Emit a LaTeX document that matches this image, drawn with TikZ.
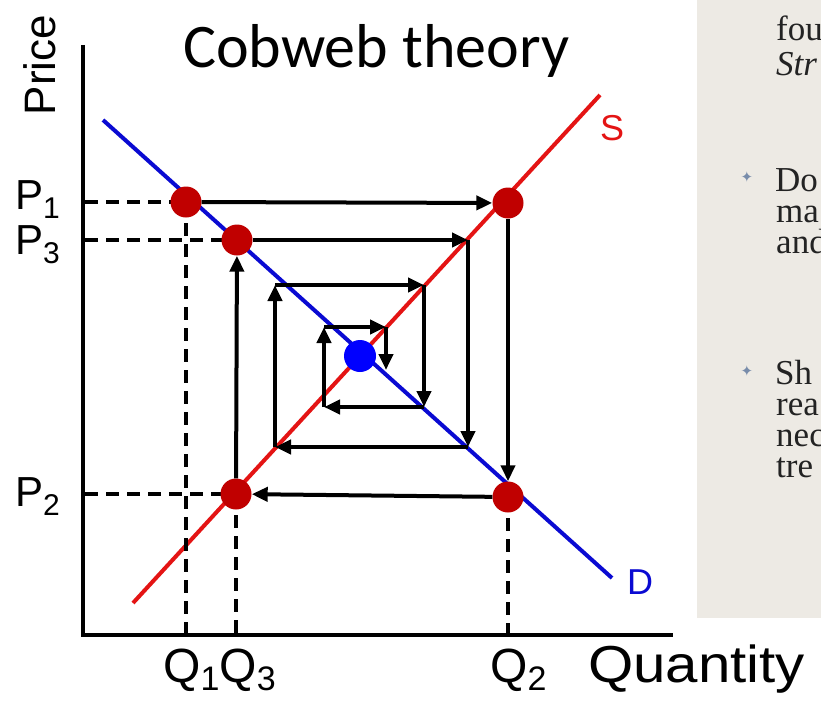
\documentclass[tikz,border=0pt]{standalone}
\usepackage{fontspec}
\setmainfont{Liberation Sans}
\newfontfamily\titlefont{Carlito}
\newfontfamily\bookfont{Liberation Serif}
\newfontfamily\symfont{DejaVu Sans}
\usetikzlibrary{arrows.meta}
\definecolor{sred}{RGB}{228,20,20}
\definecolor{dblue}{RGB}{10,10,210}
\definecolor{dotred}{RGB}{192,0,0}
\definecolor{dotblue}{RGB}{0,0,255}
\definecolor{paper}{RGB}{237,234,228}
\definecolor{bulletc}{RGB}{120,140,170}
\definecolor{ink}{RGB}{35,35,35}
\begin{document}
\begin{tikzpicture}[x=1pt,y=-1pt,
  axisline/.style={line width=4pt},
  supply/.style={line width=4pt, sred},
  demand/.style={line width=4pt, dblue},
  guide/.style={line width=3.5pt, dash pattern=on 13pt off 8pt},
  web/.style={line width=4pt, -{Triangle[length=16pt,width=14pt]}},
  rdot/.style={circle, fill=dotred, minimum size=31pt, inner sep=0pt},
  bdot/.style={circle, fill=dotblue, minimum size=32pt, inner sep=0pt},
  plbl/.style={font=\fontsize{42}{44}\selectfont, inner sep=0pt, anchor=base west},
  qlbl/.style={font=\fontsize{48}{50}\selectfont, inner sep=0pt, anchor=base west},
  pagetxt/.style={font=\bookfont\fontsize{35}{38}\selectfont, text=ink, inner sep=0pt, anchor=base west},
  bulletmark/.style={font=\symfont\fontsize{15}{15}\selectfont, text=bulletc, inner sep=0pt},
]
\useasboundingbox (0,0) rectangle (821,701);
\fill[white] (0,0) rectangle (821,701);
% book page
\begin{scope}
\clip (697,0) rectangle (821,618);
\fill[paper] (697,0) rectangle (821,618);
\node[pagetxt] (t1) at (776,41) {fou};
\node[pagetxt, font=\bookfont\itshape\fontsize{35}{38}\selectfont] (t2) at (776,75) {Str};
\node[bulletmark] (b1) at (747,177) {✦};
\node[pagetxt] (t3) at (775,191) {Do};
\node[pagetxt] (t4) at (776,222) {ma};
\node[pagetxt] (t5) at (776,253) {and};
\node[bulletmark] (b2) at (747,371) {✦};
\node[pagetxt] (t6) at (775,384) {Sh};
\node[pagetxt] (t7) at (776,415) {rea};
\node[pagetxt] (t8) at (776,446) {nec};
\node[pagetxt] (t9) at (776,477) {tre};
\end{scope}
% axes
\coordinate (ytop) at (83,45);
\coordinate (orig) at (83,635);
\coordinate (xend) at (673,635);
\draw[axisline] (ytop) -- (orig) -- (xend);
% curves
\coordinate (d0) at (103,120);
\coordinate (d9) at (612,578);
\coordinate (s0) at (133,603);
\coordinate (s9) at (600,95);
\draw[demand] (d0) -- (d9);
\draw[supply] (s0) -- (s9);
% points
\coordinate (pd1) at (186,202);
\coordinate (pd2) at (508,203);
\coordinate (pd3) at (508,497);
\coordinate (pd4) at (236,494);
\coordinate (pd5) at (237,240);
% guides
\coordinate (g1) at (85,202);
\coordinate (g3) at (85,240);
\coordinate (g2) at (85,494);
\coordinate (q1) at (186,633);
\coordinate (q3) at (236,633);
\coordinate (q2) at (508,633);
\draw[guide] (g1) -- (pd1);
\draw[guide] (g3) -- (pd5);
\draw[guide] (g2) -- (pd4);
\draw[guide] (pd1) -- (q1);
\draw[guide] (pd4) -- (q3);
\draw[guide] (pd3) -- (q2);
% dots
\node[rdot] (d1) at (pd1) {};
\node[rdot] (d2) at (pd2) {};
\node[rdot] (d3) at (pd3) {};
\node[rdot] (d4) at (pd4) {};
\node[rdot] (d5) at (pd5) {};
\node[bdot] (eq) at (360,356) {};
% cobweb
\coordinate (c6) at (468,240);
\coordinate (c7) at (468,447);
\coordinate (c8) at (275,447);
\coordinate (c9) at (275,285);
\coordinate (c10) at (424,285);
\coordinate (c11) at (424,407);
\coordinate (c12) at (324,407);
\coordinate (c13) at (324,327);
\coordinate (c14) at (386,327);
\coordinate (c15) at (386,370);
\draw[web] (d1) -- (d2);
\draw[web] (d2) -- (d3);
\draw[web] (d3) -- (d4);
\draw[web] (d4) -- (d5);
\draw[web] (d5) -- (c6);
\draw[web] (c6) -- (c7);
\draw[web] (c7) -- (c8);
\draw[web] (c8) -- (c9);
\draw[web] (c9) -- (c10);
\draw[web] (c10) -- (c11);
\draw[web] (c11) -- (c12);
\draw[web] (c12) -- (c13);
\draw[web] (c13) -- (c14);
\draw[web] (c14) -- (c15);
% labels
\node[font=\titlefont\fontsize{62}{64}\selectfont, anchor=base west, inner sep=0pt] (title) at (183,67) {Cobweb theory};
\node[font=\fontsize{44}{46}\selectfont, inner sep=0pt, rotate=90, anchor=base] (price) at (55,65) {Price};
\node[plbl] (lp1) at (15,209) {P\raisebox{-9pt}{\fontsize{30}{30}\selectfont 1}};
\node[plbl] (lp3) at (15,254) {P\raisebox{-9pt}{\fontsize{30}{30}\selectfont 3}};
\node[plbl] (lp2) at (15,506) {P\raisebox{-9pt}{\fontsize{30}{30}\selectfont 2}};
\node[qlbl] (lq13) at (163,682) {Q\raisebox{-8pt}{\fontsize{34}{34}\selectfont 1}Q\raisebox{-8pt}{\fontsize{34}{34}\selectfont 3}};
\node[qlbl] (lq2) at (490,682) {Q\raisebox{-8pt}{\fontsize{34}{34}\selectfont 2}};
\node[font=\fontsize{52}{54}\selectfont, inner sep=0pt, anchor=base west] (lqty) at (588,682) {\scalebox{1.12}[1]{Quantity}};
\node[text=sred, font=\fontsize{36}{36}\selectfont, inner sep=0pt] (slbl) at (612,128) {S};
\node[text=dblue, font=\fontsize{36}{36}\selectfont, inner sep=0pt] (dlbl) at (640,582) {D};
\end{tikzpicture}
\end{document}
